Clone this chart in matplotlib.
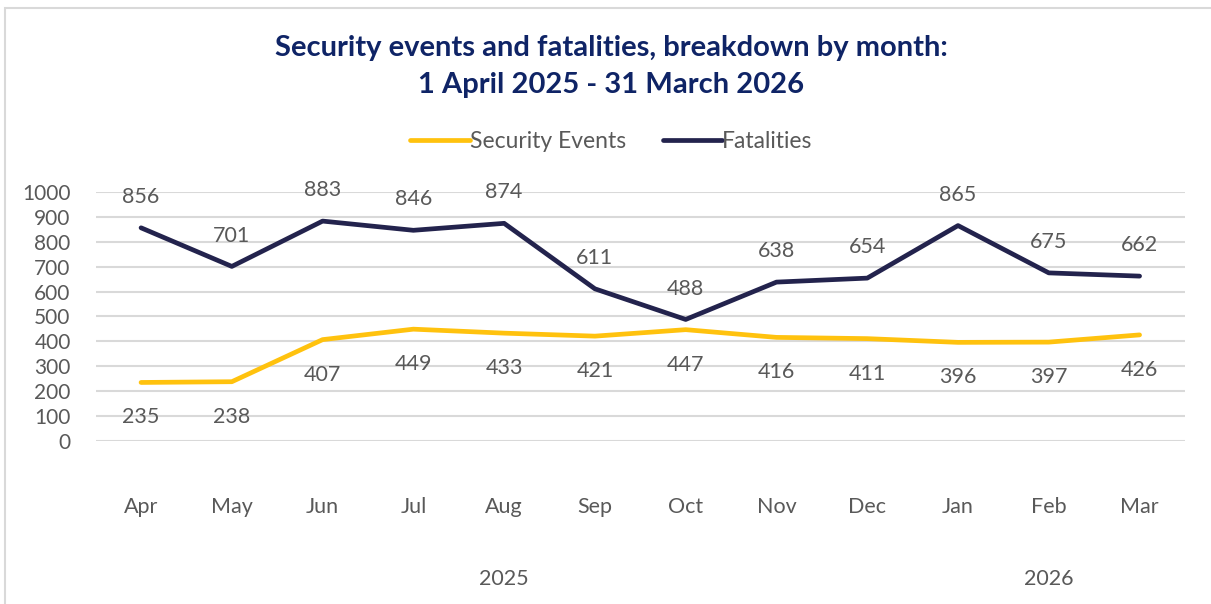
import numpy as np
import matplotlib.pyplot as plt
import matplotlib.transforms as mtransforms
from matplotlib.patches import Rectangle

# Data
months = ['Apr', 'May', 'Jun', 'Jul', 'Aug', 'Sep', 'Oct', 'Nov', 'Dec', 'Jan', 'Feb', 'Mar']
security_events = [235, 238, 407, 449, 433, 421, 447, 416, 411, 396, 397, 426]
fatalities = [856, 701, 883, 846, 874, 611, 488, 638, 654, 865, 675, 662]
years = ['2025', '2026']
year_centres = [4, 10]  # middle month of each year group

plt.rcParams['font.family'] = ['Lato', 'DejaVu Sans']

yellow = '#FFC20E'
navy = '#23234D'
title_col = '#0F2466'
grey_txt = '#595959'

fig = plt.figure(figsize=(12.11, 6.04), dpi=100)
ax = fig.add_axes([0.079, 0.2699, 0.8995, 0.4123])

x = np.arange(len(months))
ax.plot(x, security_events, color=yellow, lw=3.4, label='Security Events', solid_capstyle='round')
ax.plot(x, fatalities, color=navy, lw=3.4, label='Fatalities', solid_capstyle='round')

for i, v in enumerate(fatalities):
    ax.annotate(str(v), (i, v), xytext=(0, 15), textcoords='offset points',
                ha='center', va='bottom', fontsize=15.5, color=grey_txt)
for i, v in enumerate(security_events):
    ax.annotate(str(v), (i, v), xytext=(0, -18), textcoords='offset points',
                ha='center', va='top', fontsize=15.5, color=grey_txt)

ax.set_xlim(-0.5, len(months) - 0.5)
ax.set_ylim(0, 1000)
ax.set_yticks(np.arange(0, 1001, 100))
ax.set_xticks(x)
ax.set_xticklabels(months)
ax.tick_params(axis='x', length=0, pad=40, labelsize=15.5, labelcolor=grey_txt)
ax.tick_params(axis='y', length=0, pad=18, labelsize=15, labelcolor=grey_txt)
ax.grid(axis='y', color='#D9D9D9', lw=1.5)
ax.set_axisbelow(True)
for s in ax.spines.values():
    s.set_visible(False)

trans = mtransforms.blended_transform_factory(ax.transData, ax.transAxes)
for yr, c in zip(years, year_centres):
    ax.text(c, -0.555, yr, transform=trans, ha='center', va='center',
            fontsize=15.5, color=grey_txt)

fig.text(0.505, 0.920, 'Security events and fatalities, breakdown by month:',
         ha='center', va='center', fontsize=21, fontweight='bold', color=title_col)
fig.text(0.505, 0.860, '1 April 2025 - 31 March 2026',
         ha='center', va='center', fontsize=21, fontweight='bold', color=title_col)

fig.legend(loc='center', bbox_to_anchor=(0.505, 0.766), ncol=2, frameon=False,
           fontsize=16.5, handlelength=2.6, handletextpad=0.0, columnspacing=1.6,
           labelcolor=grey_txt)

# light frame around the chart area
fig.patches.append(Rectangle((5 / 1211, -0.05), 1.1, 0.05 + 1 - 8 / 604,
                             transform=fig.transFigure, fill=False,
                             edgecolor='#D9D9D9', lw=1.5))

fig.savefig('out.png', dpi=100)
